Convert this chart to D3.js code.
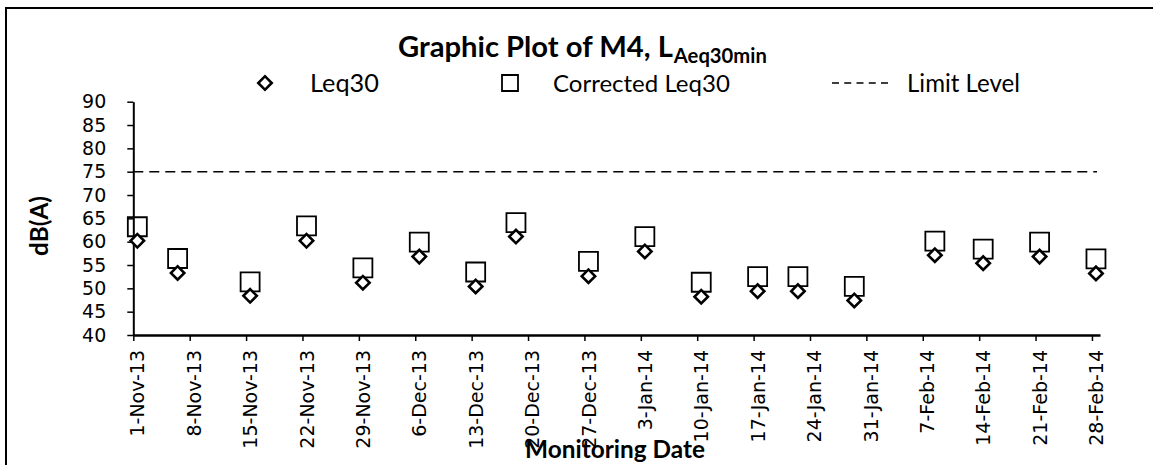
<!DOCTYPE html>
<html>
<head>
<meta charset="utf-8">
<script src="https://cdn.jsdelivr.net/npm/d3@7"></script>
<style>
  body { margin: 0; background: #fff; }
  svg { display: block; }
</style>
</head>
<body>
<script>
// chart values
const sampleDates = ["1-Nov-13 12:00", "6-Nov-13 12:00", "15-Nov-13 12:00", "22-Nov-13 12:00", "29-Nov-13 12:00",
  "6-Dec-13 12:00", "13-Dec-13 12:00", "18-Dec-13 12:00", "27-Dec-13 12:00", "3-Jan-14 12:00",
  "10-Jan-14 12:00", "17-Jan-14 12:00", "22-Jan-14 12:00", "29-Jan-14 12:00", "8-Feb-14 12:00",
  "14-Feb-14 12:00", "21-Feb-14 12:00", "28-Feb-14 12:00"];
const leq30 = [60.2, 53.3, 48.4, 60.2, 51.2, 56.8, 50.4, 61.1, 52.6, 57.9, 48.2, 49.4, 49.4, 47.4, 57.1, 55.4, 56.8, 53.2];
const correctedLeq30 = [63.2, 56.4, 51.4, 63.4, 54.4, 59.9, 53.5, 64.1, 55.8, 61.1, 51.3, 52.5, 52.5, 50.4, 60.1, 58.4, 59.9, 56.3];
const limitLevel = 75;
const xTickLabels = ["1-Nov-13", "8-Nov-13", "15-Nov-13", "22-Nov-13", "29-Nov-13", "6-Dec-13", "13-Dec-13",
  "20-Dec-13", "27-Dec-13", "3-Jan-14", "10-Jan-14", "17-Jan-14", "24-Jan-14", "31-Jan-14", "7-Feb-14",
  "14-Feb-14", "21-Feb-14", "28-Feb-14"];
const xDomain = ["1-Nov-13", "1-Mar-14"];
const yTicks = [40, 45, 50, 55, 60, 65, 70, 75, 80, 85, 90];
const seriesNames = ["Leq30", "Corrected Leq30", "Limit Level"];

const width = 1153;
const height = 465;
const margin = {top: 101.7, right: 53, bottom: 130, left: 133.3};

const parseTime = d3.timeParse("%d-%b-%y %H:%M");
const parseDay = d3.timeParse("%d-%b-%y");

const data = sampleDates.map((d, i) => ({date: parseTime(d), leq: leq30[i], corr: correctedLeq30[i]}));

const svg = d3.select("body")
  .append("svg")
  .attr("width", width)
  .attr("height", height);

// outer chart frame (right & bottom edges fall outside the picture)
svg.append("path")
  .attr("d", `M6,${height + 5}V8H${width + 5}`)
  .attr("fill", "none")
  .attr("stroke", "#000")
  .attr("stroke-width", 2);

const x = d3.scaleTime()
  .domain(xDomain.map(parseDay))
  .range([margin.left, width - margin.right]);

const y = d3.scaleLinear()
  .domain([40, 90])
  .range([height - margin.bottom, margin.top]);

const tickFont = "'DejaVu Sans', sans-serif";
const labelFont = "Lato, 'Open Sans', sans-serif";

// scale a text's font so it spans the width seen in the picture
function fit(sel, w) {
  const len = sel.node().getComputedTextLength();
  const fs = parseFloat(sel.style("font-size"));
  sel.style("font-size", (fs * w / len) + "px");
}

// y axis
const gy = svg.append("g")
  .attr("transform", `translate(${margin.left},0)`)
  .call(d3.axisLeft(y).tickValues(yTicks).tickSize(6).tickSizeOuter(0).tickPadding(21));
gy.select(".domain").attr("stroke-width", 2);
gy.selectAll(".tick line").attr("stroke-width", 1.5);
gy.selectAll(".tick text")
  .style("font-family", tickFont)
  .style("font-size", "19px")
  .attr("fill", "#000");

// x axis
const gx = svg.append("g")
  .attr("transform", `translate(0,${height - margin.bottom})`)
  .call(d3.axisBottom(x)
    .tickValues(xTickLabels.map(parseDay))
    .tickFormat(d3.timeFormat("%-d-%b-%y"))
    .tickSize(6)
    .tickSizeOuter(0));
gx.select(".domain").attr("stroke-width", 2.5);
gx.selectAll(".tick line").attr("stroke-width", 1.5);
gx.selectAll(".tick text")
  .attr("transform", "rotate(-90)")
  .attr("x", -15)
  .attr("y", 4)
  .attr("dy", "0.35em")
  .attr("text-anchor", "end")
  .style("font-family", tickFont)
  .style("font-size", "19px")
  .attr("fill", "#000");

// limit level line
svg.append("line")
  .attr("x1", x.range()[0])
  .attr("x2", x.range()[1] - 3)
  .attr("y1", y(limitLevel))
  .attr("y2", y(limitLevel))
  .attr("stroke", "#000")
  .attr("stroke-width", 1.6)
  .attr("stroke-dasharray", "10,6");

const squareSym = d3.symbol(d3.symbolSquare, 19 * 19);
const diamondSym = d3.symbol(d3.symbolSquare, 9.5 * 9.5);

// corrected Leq30 squares
svg.append("g").selectAll("path").data(data)
  .enter().append("path")
    .attr("d", squareSym)
    .attr("transform", d => `translate(${x(d.date)},${y(d.corr)})`)
    .attr("fill", "none")
    .attr("stroke", "#000")
    .attr("stroke-width", 1.8);

// Leq30 diamonds
svg.append("g").selectAll("path").data(data)
  .enter().append("path")
    .attr("d", diamondSym)
    .attr("transform", d => `translate(${x(d.date)},${y(d.leq)}) rotate(45)`)
    .attr("fill", "#fff")
    .attr("stroke", "#000")
    .attr("stroke-width", 2.6);

// title
const title = svg.append("text")
  .attr("x", 398).attr("y", 57)
  .style("font-family", labelFont)
  .style("font-weight", "bold")
  .style("font-size", "26px")
  .text("Graphic Plot of M4, L");
fit(title, 275);
const titleEnd = 398 + title.node().getComputedTextLength();
const sub = svg.append("text")
  .attr("x", titleEnd + 1).attr("y", 63)
  .style("font-family", labelFont)
  .style("font-weight", "bold")
  .style("font-size", "18px")
  .text("Aeq30min");
fit(sub, 93);

// legend
const legendY = 83;
svg.append("path")
  .attr("d", d3.symbol(d3.symbolSquare, 9.5 * 9.5))
  .attr("transform", `translate(265,${legendY}) rotate(45)`)
  .attr("fill", "#fff").attr("stroke", "#000").attr("stroke-width", 2.6);
svg.append("path")
  .attr("d", d3.symbol(d3.symbolSquare, 16 * 16))
  .attr("transform", `translate(510,${legendY})`)
  .attr("fill", "none").attr("stroke", "#000").attr("stroke-width", 1.8);
svg.append("line")
  .attr("x1", 832).attr("x2", 888)
  .attr("y1", legendY).attr("y2", legendY)
  .attr("stroke", "#000").attr("stroke-width", 1.6)
  .attr("stroke-dasharray", "7,5.25");

const legendText = [[310, 69], [553, 177], [907, 113]];
seriesNames.forEach((name, i) => {
  const t = svg.append("text")
    .attr("x", legendText[i][0]).attr("y", legendY)
    .attr("dy", "0.36em")
    .style("font-family", labelFont)
    .style("font-size", "22px")
    .text(name);
  fit(t, legendText[i][1]);
});

// axis titles
const xTitle = svg.append("text")
  .attr("x", 615).attr("y", 458)
  .attr("text-anchor", "middle")
  .style("font-family", labelFont)
  .style("font-weight", "bold")
  .style("font-size", "22px")
  .text("Monitoring Date");
fit(xTitle, 180);

const yTitle = svg.append("text")
  .attr("transform", "translate(39,226) rotate(-90)")
  .attr("text-anchor", "middle")
  .attr("dy", "0.36em")
  .style("font-family", labelFont)
  .style("font-weight", "bold")
  .style("font-size", "22px")
  .text("dB(A)");
fit(yTitle, 60);
</script>
</body>
</html>
